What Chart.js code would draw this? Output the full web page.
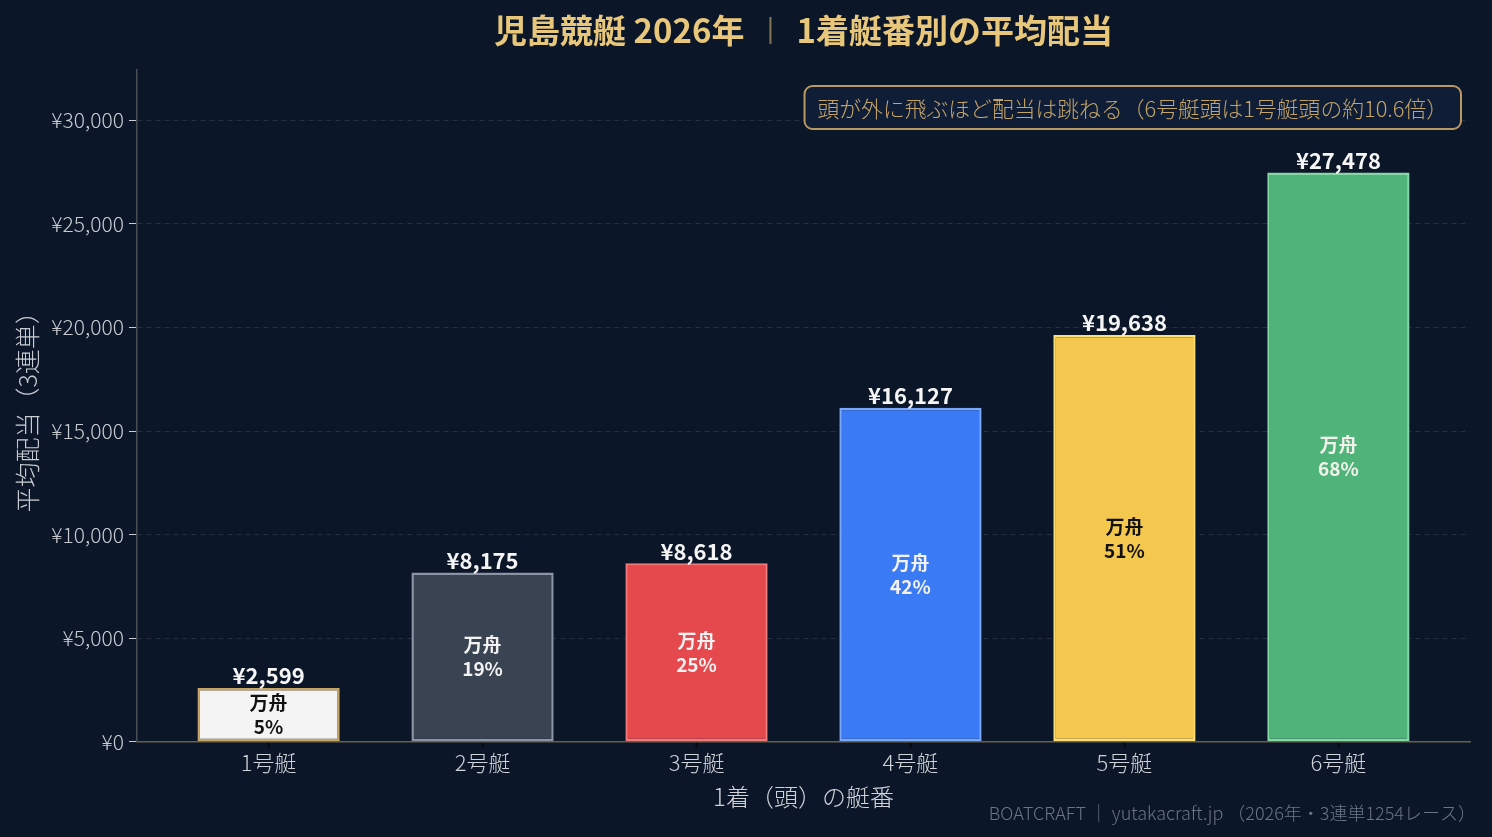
<!DOCTYPE html>
<html><head><meta charset="utf-8">
<script src="https://cdn.jsdelivr.net/npm/chart.js@4/dist/chart.umd.min.js"></script>
<style>html,body{margin:0;padding:0;background:#0b1628;}canvas{display:block;}</style>
</head><body>
<canvas id="c" width="1492" height="837"></canvas>
<script>
const boats = ['1号艇','2号艇','3号艇','4号艇','5号艇','6号艇'];
const avgPayout = [2599, 8175, 8618, 16127, 19638, 27478];
const manshuPct = [5, 19, 25, 42, 51, 68];
const yTicks = [0, 5000, 10000, 15000, 20000, 25000, 30000];
const fillColors = ['#f4f4f4','#3a4352','#e5484d','#3b7af5','#f4c74f','#4fb37a'];
const borderColors = ['#c8a464','#8a94a4','#f07a7a','#7aa7f7','#fbe07a','#86d6a6'];
const innerTextColors = ['#111111','#f2f2f2','#f2f2f2','#f2f2f2','#111111','#f2f2ea'];
const titleLeft = '児島競艇 2026年';
const titleRight = '1着艇番別の平均配当';
const noteText = '頭が外に飛ぶほど配当は跳ねる（6号艇頭は1号艇頭の約10.6倍）';
const creditText = 'BOATCRAFT ｜ yutakacraft.jp （2026年・3連単1254レース）';
const FONT = '"Noto Sans CJK JP", "Noto Sans", sans-serif';
const yen = v => '¥' + v.toLocaleString('en-US');

const bgPlugin = {
  id: 'bg',
  beforeDraw(chart) {
    const ctx = chart.ctx;
    ctx.save();
    ctx.fillStyle = '#0b1628';
    ctx.fillRect(0, 0, chart.width, chart.height);
    ctx.restore();
  }
};

const labelPlugin = {
  id: 'labels',
  afterDatasetsDraw(chart) {
    const ctx = chart.ctx;
    const meta = chart.getDatasetMeta(0);
    const yScale = chart.scales.y;
    const ca = chart.chartArea;
    ctx.save();
    // title centered over plot area
    ctx.font = 'bold 33px ' + FONT;
    ctx.textBaseline = 'middle';
    const sepGap = 26;
    const wl = ctx.measureText(titleLeft).width;
    const wr = ctx.measureText(titleRight).width;
    const total = wl + sepGap * 2 + wr;
    let tx = (ca.left + ca.right) / 2 - total / 2;
    ctx.fillStyle = '#e8c77a';
    ctx.textAlign = 'left';
    ctx.fillText(titleLeft, tx, 30);
    ctx.fillText(titleRight, tx + wl + sepGap * 2, 30);
    ctx.strokeStyle = 'rgba(232,199,122,0.55)';
    ctx.lineWidth = 2;
    ctx.beginPath();
    ctx.moveTo(tx + wl + sepGap, 17);
    ctx.lineTo(tx + wl + sepGap, 44);
    ctx.stroke();

    ctx.textAlign = 'center';
    meta.data.forEach((bar, i) => {
      ctx.fillStyle = '#f5f5f5';
      ctx.font = 'bold 22px ' + FONT;
      ctx.textBaseline = 'bottom';
      ctx.fillText(yen(avgPayout[i]), bar.x, bar.y - 1);
      const mid = (bar.y + yScale.getPixelForValue(0)) / 2;
      ctx.fillStyle = innerTextColors[i];
      ctx.font = 'bold 19px ' + FONT;
      ctx.textBaseline = 'middle';
      ctx.fillText('万舟', bar.x, mid - 12);
      ctx.fillText(manshuPct[i] + '%', bar.x, mid + 12);
    });
    // annotation box
    ctx.font = '300 21.8px ' + FONT;
    const tw = ctx.measureText(noteText).width;
    const bw = tw + 26, bh = 43;
    const bx = ca.right - 9 - bw, by = 86;
    ctx.beginPath();
    ctx.roundRect(bx, by, bw, bh, 8);
    ctx.fillStyle = '#0f1e36';
    ctx.fill();
    ctx.lineWidth = 2;
    ctx.strokeStyle = '#b8995f';
    ctx.stroke();
    ctx.fillStyle = '#c4a468';
    ctx.textAlign = 'left';
    ctx.textBaseline = 'middle';
    ctx.fillText(noteText, bx + 13, by + bh / 2 + 1);
    // credit
    ctx.font = '300 18px ' + FONT;
    ctx.fillStyle = '#6b7585';
    ctx.textAlign = 'right';
    ctx.fillText(creditText, 1476, 813);
    ctx.restore();
  }
};

new Chart(document.getElementById('c'), {
  type: 'bar',
  data: {
    datasets: [{
      data: avgPayout.map((v, i) => ({ x: i, y: v })),
      backgroundColor: fillColors,
      borderColor: borderColors,
      borderWidth: 2.5,
      borderSkipped: false,
      barPercentage: 0.665,
      categoryPercentage: 1
    }]
  },
  options: {
    responsive: false,
    animation: false,
    devicePixelRatio: 1,
    layout: { padding: { left: 0, right: 22, top: 70, bottom: 26 } },
    plugins: {
      legend: { display: false },
      tooltip: { enabled: false },
      title: { display: false }
    },
    scales: {
      x: {
        type: 'linear',
        offset: false,
        min: -0.615,
        max: 5.615,
        afterBuildTicks: s => { s.ticks = boats.map((b, i) => ({ value: i })); },
        ticks: {
          callback: v => boats[v],
          color: '#d0d4da',
          font: { family: FONT, size: 22, weight: '300' },
          padding: 2
        },
        grid: { offset: false, drawOnChartArea: false, tickLength: 6, tickColor: '#05080f', tickWidth: 2 },
        border: { color: '#6b5f45', width: 1.5 },
        title: {
          display: true,
          text: '1着（頭）の艇番',
          color: '#d0d4da',
          font: { family: FONT, size: 24, weight: '300' },
          padding: { top: 4, bottom: 0 }
        }
      },
      y: {
        min: 0,
        max: 32424,
        afterBuildTicks: s => { s.ticks = yTicks.map(v => ({ value: v })); },
        afterFit: s => { s.width = 137; },
        ticks: {
          callback: v => yen(v),
          color: '#c8ccd2',
          font: { family: FONT, size: 21, weight: '300' },
          padding: 5
        },
        grid: {
          color: 'rgba(255,255,255,0.11)',
          tickColor: '#c8ccd2',
          tickLength: 8,
          lineWidth: 1
        },
        border: { color: '#4a4f55', width: 1.5, dash: [5, 4] },
        title: {
          display: true,
          text: '平均配当（3連単）',
          color: '#c8ccd2',
          font: { family: FONT, size: 25, weight: '300' },
          padding: { top: 12, bottom: 0 }
        }
      }
    }
  },
  plugins: [bgPlugin, labelPlugin]
});
</script>
</body></html>
